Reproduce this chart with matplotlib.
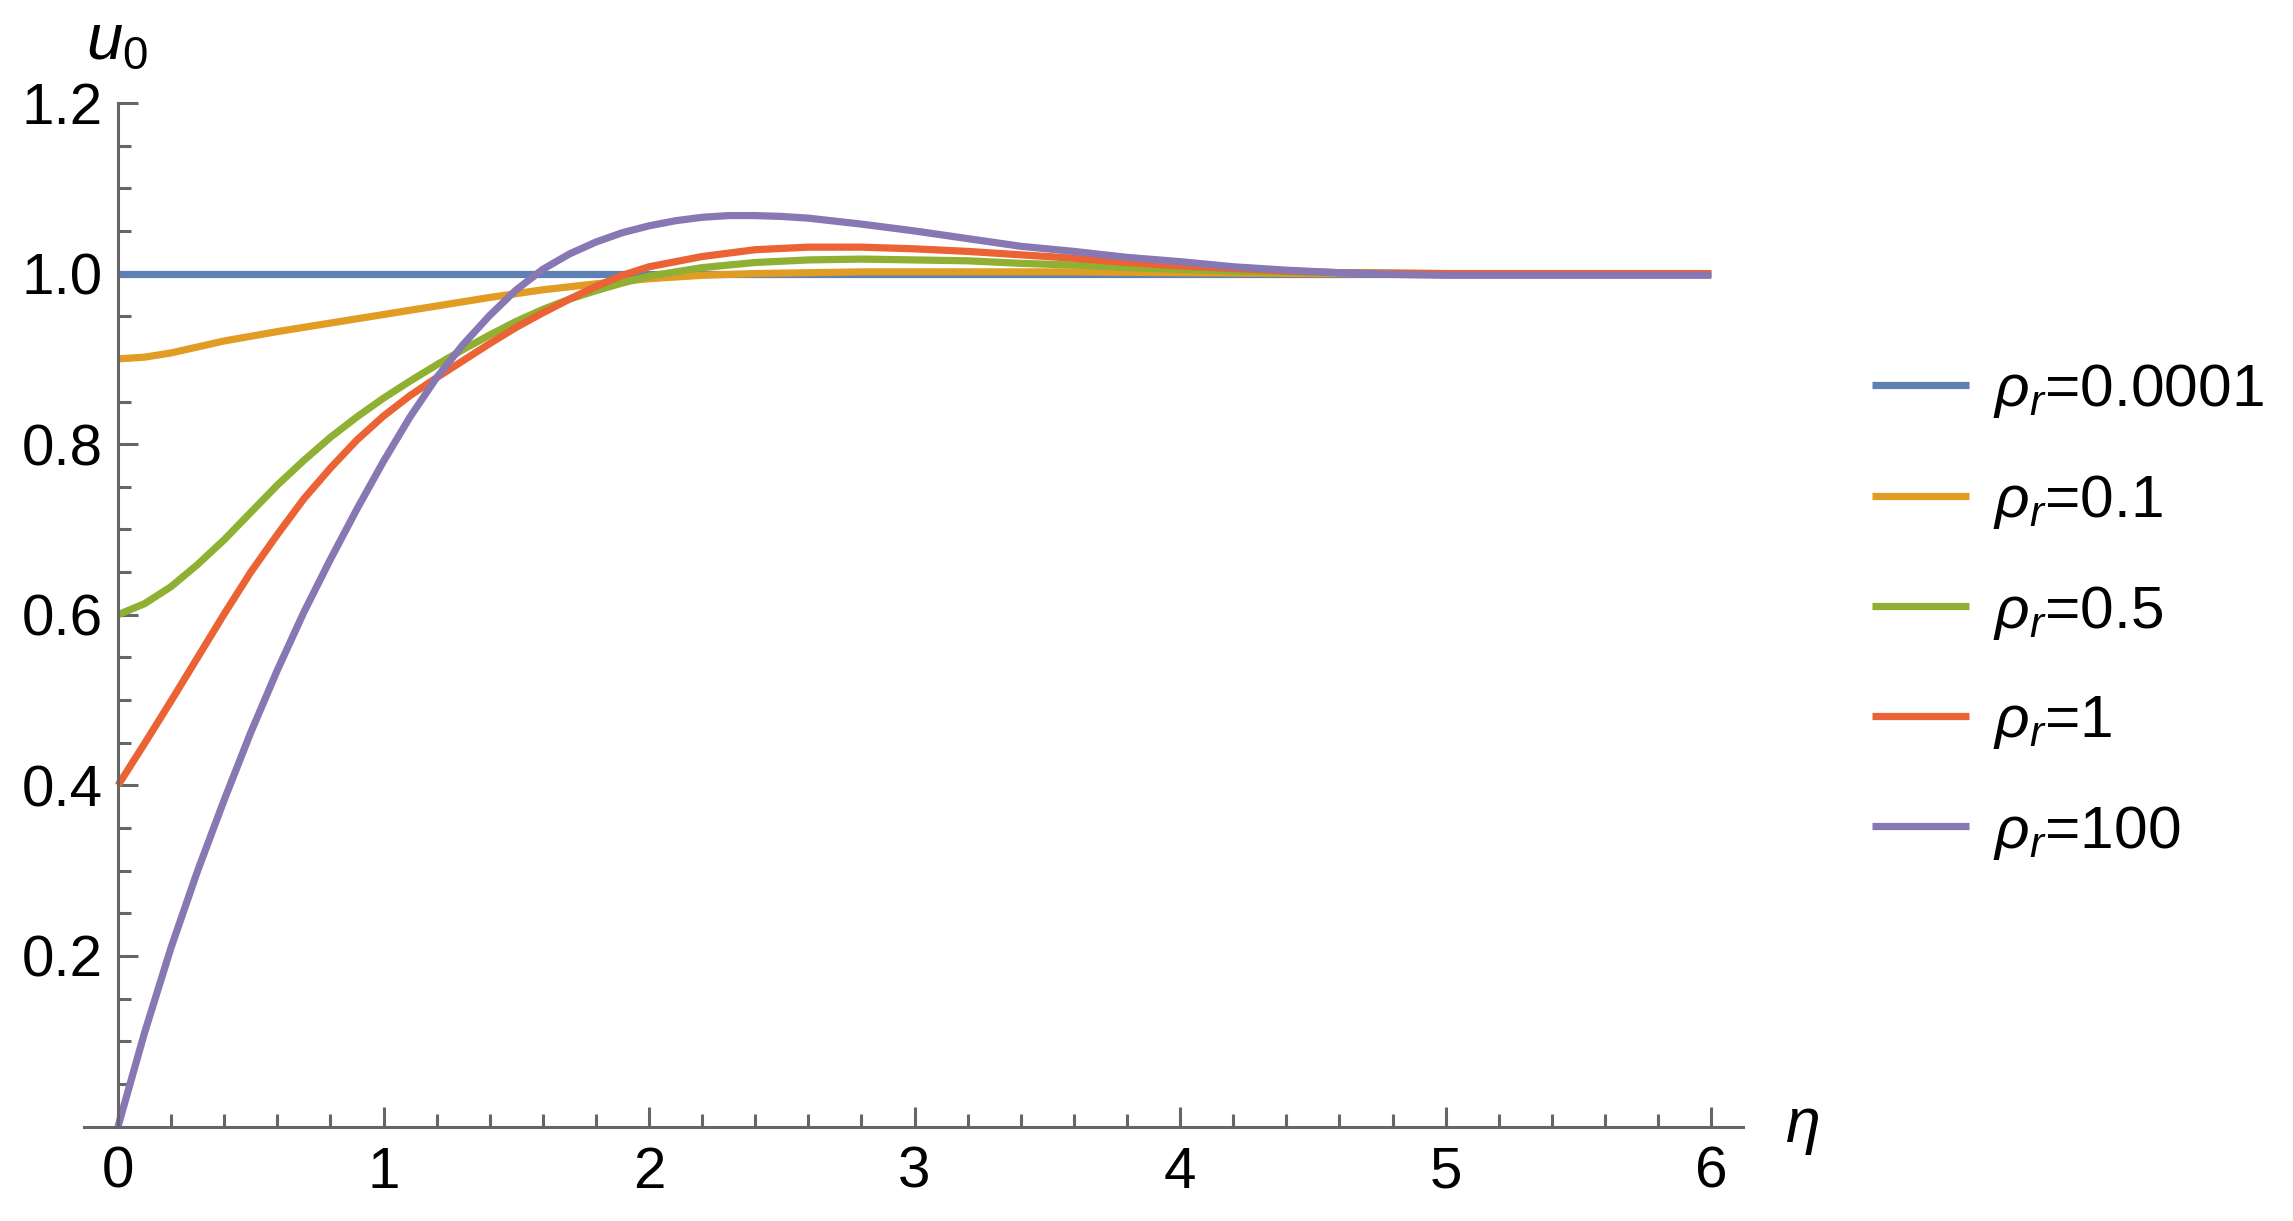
import numpy as np
import matplotlib
matplotlib.use("Agg")
import matplotlib.pyplot as plt
from matplotlib.ticker import FixedLocator, FuncFormatter

plt.rcParams['font.family'] = ['Liberation Sans', 'DejaVu Sans']
plt.rcParams['mathtext.fontset'] = 'custom'
plt.rcParams['mathtext.rm'] = 'Liberation Sans'
plt.rcParams['mathtext.it'] = 'Liberation Sans:italic'

# ---- data ----
labels = [r'$\rho_r$=0.0001', r'$\rho_r$=0.1', r'$\rho_r$=0.5', r'$\rho_r$=1', r'$\rho_r$=100']
colors = ['#5E81B5', '#E19C24', '#8FB032', '#EB6235', '#8778B3']

eta_a = [0.0, 6.0]
u_a = [1.0, 1.0]

eta_b = [0.0, 0.1, 0.2, 0.3, 0.4, 0.6, 0.8, 1.0, 1.2, 1.4, 1.6, 1.8, 2.0, 2.2, 2.4,
         2.6, 2.8, 3.2, 3.6, 4.0, 4.5, 6.0]
u_b = [0.900, 0.902, 0.907, 0.914, 0.921, 0.932, 0.942, 0.952, 0.962, 0.972, 0.981,
       0.988, 0.994, 0.998, 1.000, 1.001, 1.002, 1.002, 1.002, 1.001, 1.000, 1.000]

eta_c = [0.0, 0.1, 0.2, 0.3, 0.4, 0.5, 0.6, 0.7, 0.8, 0.9, 1.0, 1.1, 1.2, 1.3, 1.4,
         1.5, 1.6, 1.7, 1.8, 1.9, 2.0, 2.2, 2.4, 2.6, 2.8, 3.0, 3.2, 3.4, 3.6, 3.8,
         4.0, 4.2, 4.4, 4.6, 5.0, 6.0]
u_c = [0.600, 0.613, 0.633, 0.659, 0.688, 0.720, 0.752, 0.781, 0.808, 0.832, 0.854,
       0.874, 0.893, 0.911, 0.928, 0.944, 0.958, 0.970, 0.980, 0.989, 0.997, 1.007,
       1.013, 1.016, 1.017, 1.016, 1.015, 1.012, 1.010, 1.007, 1.005, 1.003, 1.002,
       1.001, 1.000, 1.000]

eta_d = [0.0, 0.1, 0.2, 0.3, 0.4, 0.5, 0.6, 0.7, 0.8, 0.9, 1.0, 1.1, 1.2, 1.3, 1.4,
         1.5, 1.6, 1.7, 1.8, 1.9, 2.0, 2.2, 2.4, 2.6, 2.8, 3.0, 3.2, 3.4, 3.6, 3.8,
         4.0, 4.2, 4.4, 4.6, 5.0, 6.0]
u_d = [0.400, 0.449, 0.499, 0.550, 0.601, 0.650, 0.694, 0.736, 0.772, 0.805, 0.833,
       0.857, 0.878, 0.898, 0.918, 0.937, 0.954, 0.970, 0.985, 0.998, 1.008, 1.020,
       1.028, 1.031, 1.031, 1.029, 1.026, 1.022, 1.018, 1.013, 1.009, 1.006, 1.003,
       1.001, 1.000, 1.000]

eta_e = [0.0, 0.1, 0.2, 0.3, 0.4, 0.5, 0.6, 0.7, 0.8, 0.9, 1.0, 1.1, 1.2, 1.3, 1.4,
         1.5, 1.6, 1.7, 1.8, 1.9, 2.0, 2.1, 2.2, 2.3, 2.4, 2.5, 2.6, 2.8, 3.0, 3.2,
         3.4, 3.6, 3.8, 4.0, 4.2, 4.4, 4.6, 4.8, 5.0, 5.5, 6.0]
u_e = [0.000, 0.110, 0.210, 0.300, 0.383, 0.462, 0.535, 0.603, 0.665, 0.724, 0.780,
       0.832, 0.878, 0.917, 0.951, 0.981, 1.005, 1.023, 1.037, 1.048, 1.056, 1.062,
       1.066, 1.068, 1.068, 1.067, 1.065, 1.058, 1.050, 1.041, 1.032, 1.026, 1.019,
       1.014, 1.008, 1.004, 1.001, 0.999, 0.998, 0.998, 0.998]

series = [(eta_a, u_a), (eta_b, u_b), (eta_c, u_c), (eta_d, u_d), (eta_e, u_e)]

x_major = [0, 1, 2, 3, 4, 5, 6]
y_major = [0.2, 0.4, 0.6, 0.8, 1.0, 1.2]

# ---- figure ----
W, H = 2293, 1221
fig = plt.figure(figsize=(W / 100, H / 100), dpi=100)
ax = fig.add_axes([83.5 / W, 1 - 1126.5 / H, (1743 - 83.5) / W, (1126.5 - 103) / H])

lw = 5.2
for (x, y), c, lab in zip(series, colors, labels):
    ax.plot(x, y, color=c, lw=lw, label=lab, solid_capstyle='butt',
            solid_joinstyle='round', clip_on=False)

ax.set_xlim(-0.13, 6.12)
ax.set_ylim(0, 1.2)

axc = '#666666'
for s in ['top', 'right']:
    ax.spines[s].set_visible(False)
ax.spines['left'].set_position(('data', 0))
ax.spines['bottom'].set_position(('data', 0))
for s in ['left', 'bottom']:
    ax.spines[s].set_color(axc)
    ax.spines[s].set_linewidth(2.2)

ax.xaxis.set_major_locator(FixedLocator(x_major))
ax.xaxis.set_minor_locator(FixedLocator([v / 5 for v in range(31) if v % 5 != 0]))
ax.yaxis.set_major_locator(FixedLocator(y_major))
ax.yaxis.set_minor_locator(FixedLocator([v / 20 for v in range(1, 24) if v % 4 != 0]))
ax.xaxis.set_major_formatter(FuncFormatter(lambda v, p: f'{v:.0f}'))
ax.yaxis.set_major_formatter(FuncFormatter(lambda v, p: f'{v:.1f}'))

ax.tick_params(axis='both', which='both', direction='in', color=axc, width=2.2,
               labelcolor='black', labelsize=42)
ax.tick_params(axis='both', which='major', length=14.4)
ax.tick_params(axis='both', which='minor', length=9.4)
ax.tick_params(axis='x', which='major', pad=14)
ax.tick_params(axis='y', which='major', pad=11)

fig.text(117 / W, 1 - 59 / H, r'$u_0$', fontsize=47, ha='center', va='baseline')
fig.text(1785 / W, 1 - 1142 / H, r'$\eta$', fontsize=45, ha='left', va='baseline')

leg = ax.legend(loc='center left', bbox_to_anchor=(1872 / W, 1 - 612 / H),
                bbox_transform=fig.transFigure, frameon=False, fontsize=43.5,
                handlelength=1.6, handletextpad=0.4, labelspacing=0.87,
                borderpad=0, borderaxespad=0)

fig.savefig('out.png', dpi=100, facecolor='white')
